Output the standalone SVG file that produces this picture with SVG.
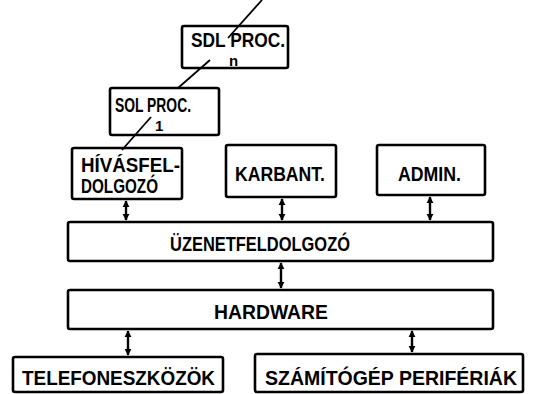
<svg xmlns="http://www.w3.org/2000/svg" width="533" height="394" viewBox="0 0 533 394">
<style>
.box{fill:#fff;stroke:#000;stroke-width:2.6}
.t{font-family:"Liberation Sans",Arial,sans-serif;font-size:21px;font-weight:bold;fill:#000}
.s{font-family:"Liberation Sans",Arial,sans-serif;font-size:15px;font-weight:bold;fill:#000}
.c{stroke:#000;stroke-width:2.4;fill:none}
.l{stroke:#000;stroke-width:1.8;fill:none}
</style>
<defs>
<marker id="ah" viewBox="0 0 10 10" refX="9" refY="5" markerWidth="3" markerHeight="3" orient="auto-start-reverse" markerUnits="strokeWidth">
<path d="M0,0 L10,5 L0,10 z" fill="#000"/>
</marker>
</defs>
<rect width="533" height="394" fill="#fff"/>
<g id="sdln">
<rect class="box" x="182" y="26" width="106" height="42" rx="2"/>
<text class="t" x="191" y="47" textLength="94" lengthAdjust="spacingAndGlyphs">SDL  PROC.</text>
<text class="s" x="229" y="66">n</text>
</g>
<g id="sdl1">
<rect class="box" x="110" y="88" width="109" height="47" rx="2"/>
<text class="t" x="115" y="112" textLength="76" lengthAdjust="spacingAndGlyphs">SOL PROC.</text>
<text class="s" x="155" y="131">1</text>
</g>
<g id="hivas">
<rect class="box" x="72" y="148" width="110" height="51" rx="2"/>
<text class="t" x="81" y="172" textLength="99" lengthAdjust="spacingAndGlyphs">HÍVÁSFEL-</text>
<text class="t" x="81" y="193" textLength="77" lengthAdjust="spacingAndGlyphs">DOLGOZÓ</text>
</g>
<g id="karbant">
<rect class="box" x="226" y="145" width="110" height="52" rx="2"/>
<text class="t" x="235" y="181" textLength="90" lengthAdjust="spacingAndGlyphs">KARBANT.</text>
</g>
<g id="admin">
<rect class="box" x="377" y="145" width="108" height="50" rx="2"/>
<text class="t" x="398" y="181" textLength="63" lengthAdjust="spacingAndGlyphs">ADMIN.</text>
</g>
<g id="uzenet">
<rect class="box" x="68" y="222" width="425" height="39" rx="2"/>
<text class="t" x="170" y="251" textLength="180" lengthAdjust="spacingAndGlyphs">ÜZENETFELDOLGOZÓ</text>
</g>
<g id="hardware">
<rect class="box" x="68" y="290" width="425" height="39" rx="2"/>
<text class="t" x="214" y="319" textLength="114" lengthAdjust="spacingAndGlyphs">HARDWARE</text>
</g>
<g id="telefon">
<rect class="box" x="13" y="357" width="210" height="35" rx="2"/>
<text class="t" x="22" y="385" textLength="193" lengthAdjust="spacingAndGlyphs">TELEFONESZKÖZÖK</text>
</g>
<g id="szamito">
<rect class="box" x="255" y="354" width="268" height="38" rx="2"/>
<text class="t" x="265" y="385" style="font-size:19.5px" textLength="252" lengthAdjust="spacingAndGlyphs">SZÁMÍTÓGÉP PERIFÉRIÁK</text>
</g>
<g id="connectors">
<line class="l" x1="262" y1="0" x2="228" y2="38"/>
<line class="l" x1="210" y1="60" x2="178" y2="88"/>
<line class="l" x1="151" y1="117" x2="122" y2="150"/>
<line class="c" x1="126" y1="201" x2="126" y2="220" marker-start="url(#ah)" marker-end="url(#ah)"/>
<line class="c" x1="282" y1="199" x2="282" y2="220" marker-start="url(#ah)" marker-end="url(#ah)"/>
<line class="c" x1="430" y1="197" x2="430" y2="220" marker-start="url(#ah)" marker-end="url(#ah)"/>
<line class="c" x1="281" y1="263" x2="281" y2="288" marker-start="url(#ah)" marker-end="url(#ah)"/>
<line class="c" x1="128" y1="331" x2="128" y2="355" marker-start="url(#ah)" marker-end="url(#ah)"/>
<line class="c" x1="412" y1="331" x2="412" y2="352" marker-start="url(#ah)" marker-end="url(#ah)"/>
</g>
</svg>
